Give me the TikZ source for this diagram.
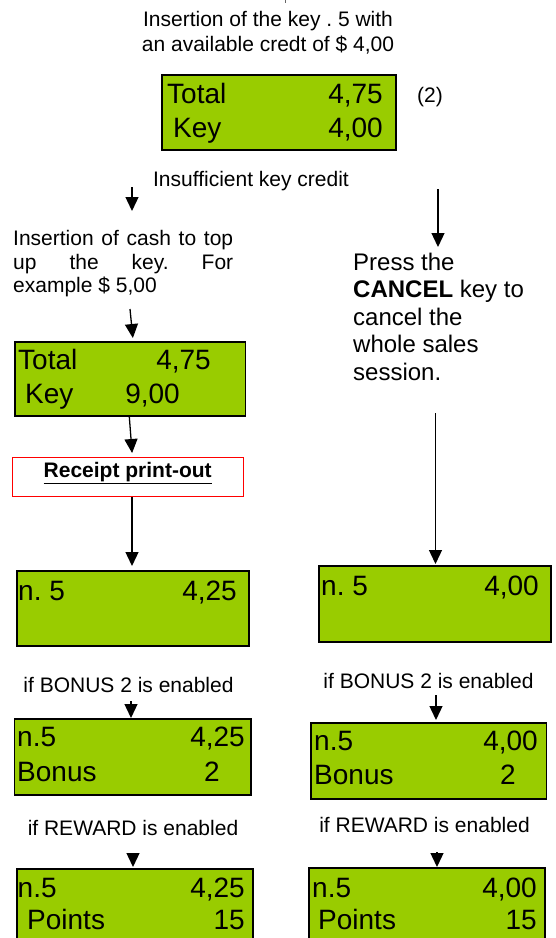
\documentclass[tikz,border=0pt]{standalone}
\usepackage{fontspec}
\setmainfont{Liberation Sans}
\usetikzlibrary{arrows.meta}
\definecolor{lcdgreen}{RGB}{153,204,0}
\frenchspacing
\begin{document}
\begin{tikzpicture}[x=1pt,y=-1pt,
  lcd/.style={draw=black, line width=1.3pt, fill=lcdgreen, inner sep=0pt, outer sep=0pt, anchor=north west},
  big/.style={inner sep=0pt, font=\fontsize{28}{30}\selectfont},
  note/.style={inner sep=0pt, font=\fontsize{21}{24.5}\selectfont},
  arr/.style={line width=1.3pt, -{Triangle[width=13pt,length=14pt]}}]
\fill[white] (0,0) rectangle (555,938);
\useasboundingbox (0,0) rectangle (555,938);

% fragment at top
\coordinate (f0) at (285,-4);
\coordinate (f1) at (285,2.5);
\draw[line width=1pt, black!60] (f0) -- (f1);

% title
\node[note, align=center, anchor=north] (title) at (268,11.5) {Insertion of the key . 5 with\\an available credt of \$ 4,00};

% top box
\node[lcd, minimum width=234pt, minimum height=75pt] (b1) at (162,75) {};
\node[big, anchor=base west] (b1t1) at (167,103) {Total};
\node[big, anchor=base east] (b1v1) at (383,103) {4,75};
\node[big, anchor=base west] (b1t2) at (173,137) {Key};
\node[big, anchor=base east] (b1v2) at (383,137) {4,00};
\node[note, anchor=base west] (lab2) at (417,102) {(2)};

\node[note, anchor=base] (insuf) at (251,186.5) {Insufficient key credit};

\coordinate (a1s) at (132,187);
\coordinate (a1e) at (132,211);
\draw[arr] (a1s) -- (a1e);
\coordinate (a2s) at (438,189);
\coordinate (a2e) at (438,247);
\draw[arr] (a2s) -- (a2e);

% left text
\node[note, font=\fontsize{21}{23.5}\selectfont\frenchspacing, text width=220pt, align=justify, anchor=north west] (cash) at (13,230.5)
  {\noindent Insertion of cash to top\linebreak up the key. For\linebreak example \$ 5,00};

% right text
\node[inner sep=0pt, align=left, anchor=north west, font=\fontsize{24}{27.5}\selectfont] (cancel) at (353,252.5)
  {Press the\\\textbf{CANCEL} key to\\cancel the\\whole sales\\session.};

% box 2
\node[lcd, minimum width=230.5pt, minimum height=74pt] (b2) at (15,342) {};
\node[big, anchor=base west] (b2t1) at (18,369) {Total};
\node[big, anchor=base east] (b2v1) at (211,369) {4,75};
\node[big, anchor=base west] (b2t2) at (25,403) {Key};
\node[big, anchor=base east] (b2v2) at (180,403) {9,00};

\coordinate (a3s) at (130,309);
\draw[arr, shorten >=4pt] (a3s) -- ([xshift=3pt]b2.north);

% receipt
\node[draw=red, line width=1.2pt, minimum width=231pt, minimum height=39pt, anchor=north west, inner sep=0pt] (rc) at (12,457) {};
\node[inner sep=0pt, anchor=base, font=\fontsize{21}{24}\selectfont\bfseries] (rct) at (127.7,477.3) {\underline{Receipt print-out}};

\draw[arr, shorten >=4pt] ([xshift=-1pt]b2.south) -- ([xshift=4.3pt]rc.north);

% box 3 left
\node[lcd, minimum width=232pt, minimum height=75pt] (b3) at (17,571) {};
\node[big, anchor=base west] (b3t1) at (18,600) {n. 5};
\node[big, anchor=base east] (b3v1) at (237,600) {4,25};
\draw[arr, shorten >=5pt] ([xshift=-1pt]b3.north |- rc.south) -- ([xshift=-1pt]b3.north);

% box 3 right
\node[lcd, minimum width=232pt, minimum height=76pt] (r3) at (319,566) {};
\node[big, anchor=base west] (r3t1) at (321,595) {n. 5};
\node[big, anchor=base east] (r3v1) at (539,595) {4,00};
\coordinate (a6s) at (435.5,413);
\draw[arr, shorten >=2pt] (a6s) -- ([xshift=0.5pt]r3.north);

% bonus
\node[note, anchor=base] (bonL) at (128.5,692) {if BONUS 2 is enabled};
\node[note, anchor=base] (bonR) at (428.5,688) {if BONUS 2 is enabled};

\node[lcd, minimum width=236.5pt, minimum height=76pt] (b4) at (14.5,719) {};
\node[big, anchor=base west] (b4t1) at (17,746.5) {n.5};
\node[big, anchor=base east] (b4v1) at (245,746.5) {4,25};
\node[big, anchor=base west] (b4t2) at (17,781) {Bonus};
\node[big, anchor=base east] (b4v2) at (220,781) {2};
\coordinate (a7s) at (131,701);
\draw[arr, shorten >=1pt] (a7s) -- ([xshift=-1.75pt]b4.north);

\node[lcd, minimum width=235.5pt, minimum height=76pt] (r4) at (311,723) {};
\node[big, anchor=base west] (r4t1) at (314,750) {n.5};
\node[big, anchor=base east] (r4v1) at (538,750) {4,00};
\node[big, anchor=base west] (r4t2) at (314,784) {Bonus};
\node[big, anchor=base east] (r4v2) at (516,784) {2};
\coordinate (a8s) at (436,695);
\draw[arr, shorten >=3pt] (a8s) -- ([xshift=7.25pt]r4.north);

% reward
\node[note, anchor=base] (rewL) at (133,835) {if REWARD is enabled};
\node[note, anchor=base] (rewR) at (424.5,832) {if REWARD is enabled};

\node[lcd, minimum width=236pt, minimum height=80pt] (b5) at (17,869) {};
\node[big, anchor=base west] (b5t1) at (17.5,897) {n.5};
\node[big, anchor=base east] (b5v1) at (245,897) {4,25};
\node[big, anchor=base west] (b5t2) at (27,929) {Points};
\node[big, anchor=base east] (b5v2) at (245,929) {15};
\coordinate (a9s) at (133,853);
\draw[arr, shorten >=2pt] (a9s) -- ([xshift=-2pt]b5.north);

\node[lcd, minimum width=236pt, minimum height=80pt] (r5) at (309,868) {};
\node[big, anchor=base west] (r5t1) at (312,897) {n.5};
\node[big, anchor=base east] (r5v1) at (537,897) {4,00};
\node[big, anchor=base west] (r5t2) at (318,929) {Points};
\node[big, anchor=base east] (r5v2) at (537,929) {15};
\coordinate (a10s) at (437,852);
\draw[arr, shorten >=1pt] (a10s) -- ([xshift=10pt]r5.north);
\end{tikzpicture}
\end{document}
